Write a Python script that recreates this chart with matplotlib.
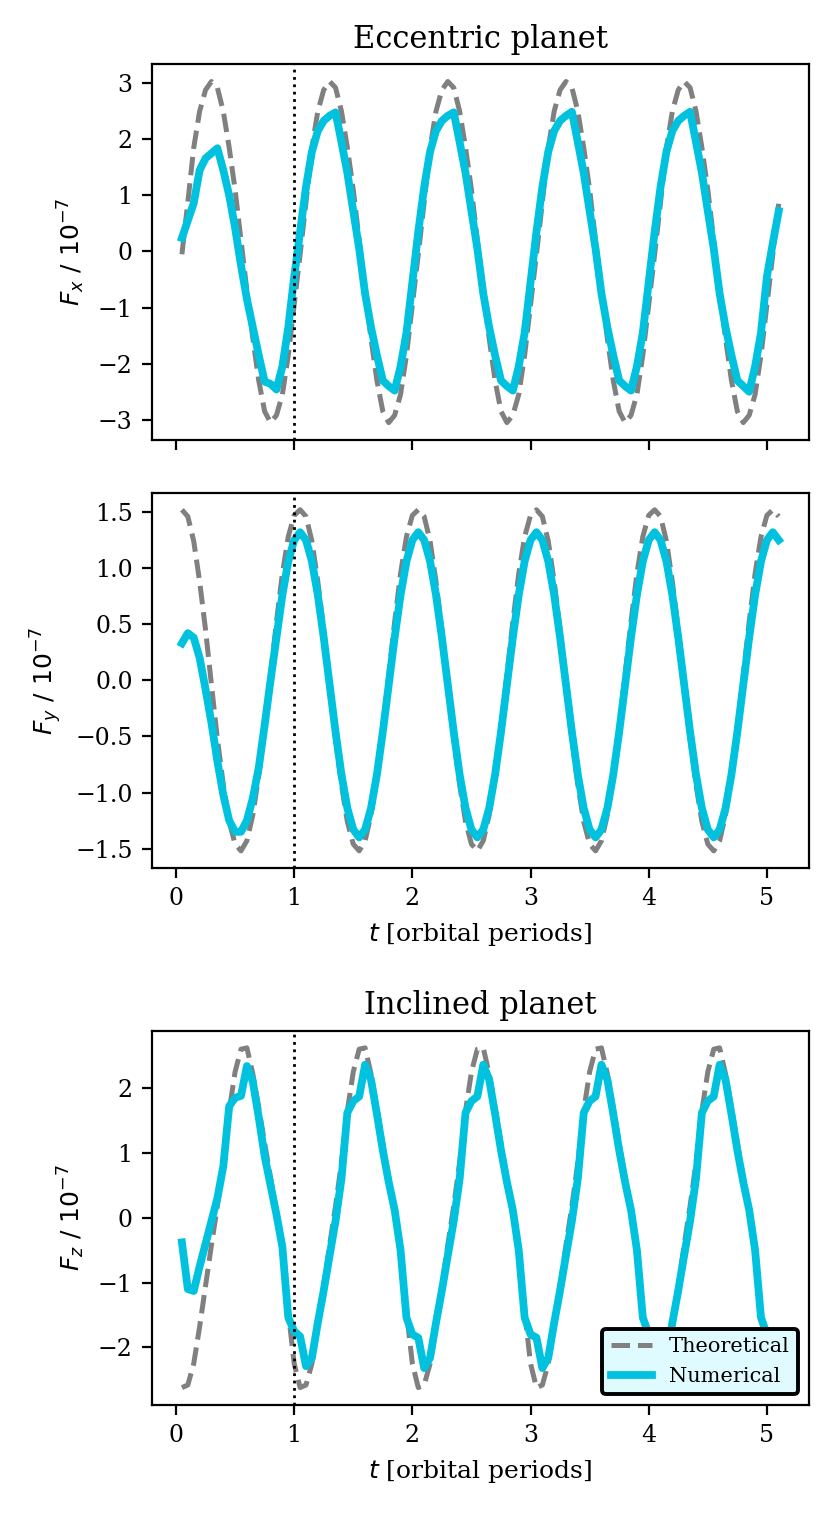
import numpy as np
import matplotlib
matplotlib.use("Agg")
import matplotlib.pyplot as plt

plt.rcParams['font.family'] = ['DejaVu Serif']
plt.rcParams['mathtext.fontset'] = 'dejavusans'

# time grid [orbital periods]
t = np.linspace(0.05, 5.10, 102)

# eccentric planet, F_x (units of 1e-7)
fx_theory = [
    -0.05, 0.88, 1.85, 2.50, 2.88, 3.03, 2.92, 2.50, 1.85, 1.10, 0.20, -0.70, -1.55, -2.30, -2.85, -3.05, -2.92, -2.55, -1.85, -0.95,
    -0.05, 0.88, 1.85, 2.50, 2.88, 3.03, 2.92, 2.50, 1.85, 1.10, 0.20, -0.70, -1.55, -2.30, -2.85, -3.05, -2.92, -2.55, -1.85, -0.95,
    -0.05, 0.88, 1.85, 2.50, 2.88, 3.03, 2.92, 2.50, 1.85, 1.10, 0.20, -0.70, -1.55, -2.30, -2.85, -3.05, -2.92, -2.55, -1.85, -0.95,
    -0.05, 0.88, 1.85, 2.50, 2.88, 3.03, 2.92, 2.50, 1.85, 1.10, 0.20, -0.70, -1.55, -2.30, -2.85, -3.05, -2.92, -2.55, -1.85, -0.95,
    -0.05, 0.88, 1.85, 2.50, 2.88, 3.03, 2.92, 2.50, 1.85, 1.10, 0.20, -0.70, -1.55, -2.30, -2.85, -3.05, -2.92, -2.55, -1.85, -0.95,
    -0.05, 0.85,
]
fx_num = [
    0.24, 0.55, 0.86, 1.45, 1.66, 1.75, 1.84, 1.45, 1.00, 0.42, -0.25, -0.85, -1.35, -1.85, -2.32, -2.36, -2.46, -2.05, -1.35, -0.45,
    0.35, 1.15, 1.78, 2.15, 2.33, 2.42, 2.48, 1.95, 1.40, 0.72, 0.05, -0.75, -1.35, -1.85, -2.30, -2.40, -2.48, -2.05, -1.45, -0.55,
    0.35, 1.15, 1.78, 2.15, 2.33, 2.42, 2.48, 1.95, 1.40, 0.72, 0.05, -0.75, -1.35, -1.85, -2.30, -2.40, -2.48, -2.05, -1.45, -0.55,
    0.35, 1.15, 1.78, 2.15, 2.33, 2.42, 2.49, 1.95, 1.40, 0.72, 0.05, -0.75, -1.35, -1.85, -2.30, -2.40, -2.48, -2.05, -1.45, -0.55,
    0.35, 1.15, 1.78, 2.15, 2.33, 2.42, 2.49, 1.95, 1.40, 0.72, 0.05, -0.75, -1.35, -1.85, -2.30, -2.40, -2.50, -2.05, -1.45, -0.45,
    0.15, 0.72,
]

# eccentric planet, F_y
fy_theory = [
    1.52, 1.46, 1.24, 0.88, 0.45, -0.04, -0.52, -0.93, -1.26, -1.46, -1.52, -1.43, -1.20, -0.85, -0.42, 0.05, 0.52, 0.95, 1.28, 1.47,
    1.52, 1.46, 1.24, 0.88, 0.45, -0.04, -0.52, -0.93, -1.26, -1.46, -1.52, -1.43, -1.20, -0.85, -0.42, 0.05, 0.52, 0.95, 1.28, 1.47,
    1.52, 1.46, 1.24, 0.88, 0.45, -0.04, -0.52, -0.93, -1.26, -1.46, -1.52, -1.43, -1.20, -0.85, -0.42, 0.05, 0.52, 0.95, 1.28, 1.47,
    1.52, 1.46, 1.24, 0.88, 0.45, -0.04, -0.52, -0.93, -1.26, -1.46, -1.52, -1.43, -1.20, -0.85, -0.42, 0.05, 0.52, 0.95, 1.28, 1.47,
    1.52, 1.46, 1.24, 0.88, 0.45, -0.04, -0.52, -0.93, -1.26, -1.46, -1.52, -1.43, -1.20, -0.85, -0.42, 0.05, 0.52, 0.95, 1.28, 1.47,
    1.52, 1.46,
]
fy_num = [
    0.33, 0.42, 0.38, 0.20, -0.08, -0.38, -0.72, -1.02, -1.25, -1.35, -1.35, -1.25, -1.05, -0.78, -0.40, 0.00, 0.38, 0.76, 1.06, 1.25,
    1.32, 1.25, 1.06, 0.76, 0.38, -0.04, -0.46, -0.84, -1.14, -1.33, -1.40, -1.33, -1.14, -0.84, -0.46, -0.04, 0.38, 0.76, 1.06, 1.25,
    1.32, 1.25, 1.06, 0.76, 0.38, -0.04, -0.46, -0.84, -1.14, -1.33, -1.40, -1.33, -1.14, -0.84, -0.46, -0.04, 0.38, 0.76, 1.06, 1.25,
    1.32, 1.25, 1.06, 0.76, 0.38, -0.04, -0.46, -0.84, -1.14, -1.33, -1.40, -1.33, -1.14, -0.84, -0.46, -0.04, 0.38, 0.76, 1.06, 1.25,
    1.32, 1.25, 1.06, 0.76, 0.38, -0.04, -0.46, -0.84, -1.14, -1.33, -1.40, -1.33, -1.14, -0.84, -0.46, -0.04, 0.38, 0.76, 1.06, 1.25,
    1.32, 1.25,
]

# inclined planet, F_z
fz_theory = [
    -2.62, -2.58, -2.25, -1.68, -1.05, -0.42, 0.18, 0.85, 1.65, 2.25, 2.60, 2.62, 2.22, 1.70, 1.15, 0.62, 0.10, -0.55, -1.45, -2.25,
    -2.62, -2.58, -2.25, -1.68, -1.05, -0.42, 0.18, 0.85, 1.65, 2.25, 2.60, 2.62, 2.22, 1.70, 1.15, 0.62, 0.10, -0.55, -1.45, -2.25,
    -2.62, -2.58, -2.25, -1.68, -1.05, -0.42, 0.18, 0.85, 1.65, 2.25, 2.60, 2.62, 2.22, 1.70, 1.15, 0.62, 0.10, -0.55, -1.45, -2.25,
    -2.62, -2.58, -2.25, -1.68, -1.05, -0.42, 0.18, 0.85, 1.65, 2.25, 2.60, 2.62, 2.22, 1.70, 1.15, 0.62, 0.10, -0.55, -1.45, -2.25,
    -2.62, -2.58, -2.25, -1.68, -1.05, -0.42, 0.18, 0.85, 1.65, 2.25, 2.60, 2.62, 2.22, 1.70, 1.15, 0.62, 0.10, -0.55, -1.45, -2.25,
    -2.62, -2.58,
]
fz_num = [
    -0.38, -1.10, -1.13, -0.75, -0.40, -0.05, 0.30, 0.79, 1.72, 1.85, 1.88, 2.34, 2.10, 1.55, 0.95, 0.50, 0.05, -0.45, -1.54, -1.75,
    -1.83, -2.29, -2.16, -1.62, -1.12, -0.58, -0.05, 0.60, 1.62, 1.80, 1.87, 2.36, 2.13, 1.60, 1.04, 0.55, 0.12, -0.50, -1.54, -1.80,
    -1.85, -2.32, -2.16, -1.62, -1.12, -0.58, -0.05, 0.60, 1.62, 1.80, 1.87, 2.36, 2.13, 1.60, 1.04, 0.55, 0.12, -0.50, -1.54, -1.80,
    -1.85, -2.32, -2.16, -1.62, -1.12, -0.58, -0.05, 0.60, 1.62, 1.80, 1.87, 2.36, 2.13, 1.60, 1.04, 0.55, 0.12, -0.50, -1.54, -1.80,
    -1.85, -2.32, -2.16, -1.62, -1.12, -0.58, -0.05, 0.60, 1.62, 1.80, 1.87, 2.36, 2.13, 1.60, 1.04, 0.55, 0.12, -0.50, -1.54, -1.80,
    -1.85, -2.30,
]

cyan = '#00c2de'

fig = plt.figure(figsize=(4.155, 7.58), dpi=200)
ax1 = fig.add_axes([0.183, 0.710, 0.790, 0.2475])
ax2 = fig.add_axes([0.183, 0.4275, 0.790, 0.2475], sharex=ax1)
ax3 = fig.add_axes([0.183, 0.0735, 0.790, 0.2465])

panels = [(ax1, fx_theory, fx_num, r'$F_x\ /\ 10^{-7}$'),
          (ax2, fy_theory, fy_num, r'$F_y\ /\ 10^{-7}$'),
          (ax3, fz_theory, fz_num, r'$F_z\ /\ 10^{-7}$')]

for ax, th, num, lab in panels:
    ax.plot(t, th, '--', color='gray', lw=1.8, label='Theoretical')
    ax.plot(t, num, '-', color=cyan, lw=2.8, label='Numerical')
    ax.axvline(1, color='black', ls=':', lw=1)
    ax.set_ylabel(lab, fontsize=9)
    ax.tick_params(labelsize=8.5)

plt.setp(ax1.get_xticklabels(), visible=False)
ax1.set_title('Eccentric planet', fontsize=11)
ax3.set_title('Inclined planet', fontsize=11)
ax2.set_xlabel(r'$t$ [orbital periods]', fontsize=9)
ax3.set_xlabel(r'$t$ [orbital periods]', fontsize=9)
ax2.set_yticks([-1.5, -1.0, -0.5, 0.0, 0.5, 1.0, 1.5])

leg = ax3.legend(loc='lower right', fontsize=7.5, facecolor='#e0fbff',
                 edgecolor='black', framealpha=1)
leg.get_frame().set_linewidth(1.4)

fig.savefig('out.png', dpi=200)
